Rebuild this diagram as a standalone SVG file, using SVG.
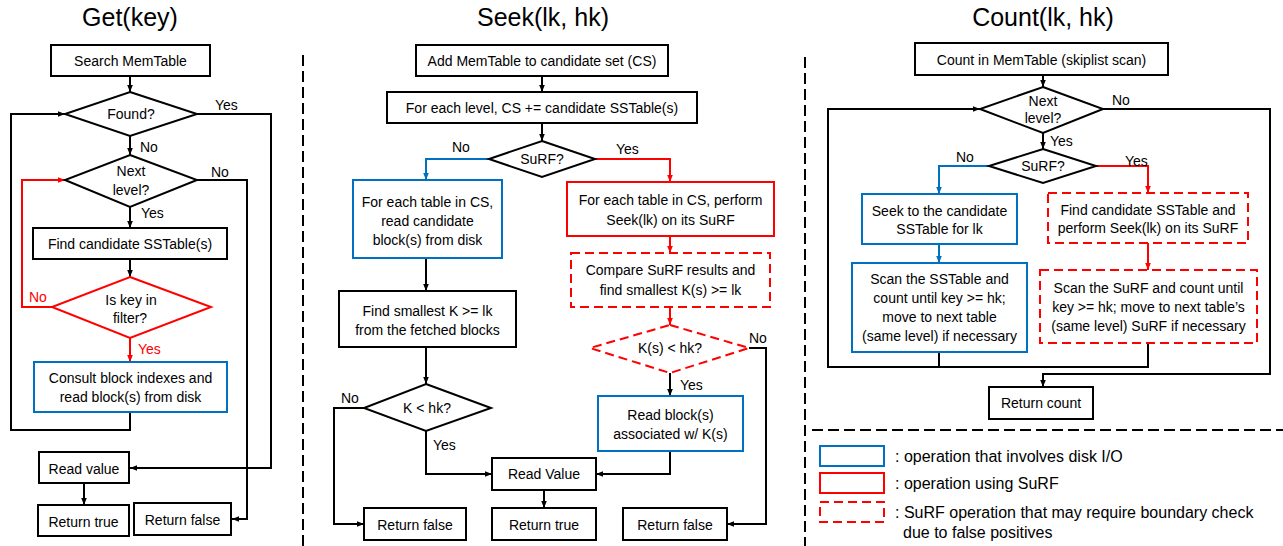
<svg xmlns="http://www.w3.org/2000/svg" width="1283" height="546" viewBox="0 0 1283 546">
<defs>
<style>
text{font-family:"Liberation Sans",Arial,sans-serif;font-size:14px;fill:#000;text-anchor:middle}
.t{font-size:25px}
.s{text-anchor:start}
.rt{fill:#FF0000}
.lg{font-size:16px;text-anchor:start}
.bx{fill:#fff;stroke:#000;stroke-width:2}
.bl{fill:#fff;stroke:#0070C0;stroke-width:2}
.rd{fill:#fff;stroke:#FF0000;stroke-width:2}
.rdd{fill:#fff;stroke:#FF0000;stroke-width:2;stroke-dasharray:9 5}
.ck{fill:none;stroke:#000;stroke-width:2}
.cb{fill:none;stroke:#0070C0;stroke-width:2}
.cr{fill:none;stroke:#FF0000;stroke-width:2}
.sep{fill:none;stroke:#000;stroke-width:2;stroke-dasharray:11 5}
</style>
<marker id="ak" viewBox="0 0 10 10" refX="10" refY="5" markerWidth="7" markerHeight="7" markerUnits="userSpaceOnUse" orient="auto"><path d="M0,1 L10,5 L0,9 z" fill="#000"/></marker>
<marker id="ab" viewBox="0 0 10 10" refX="10" refY="5" markerWidth="7" markerHeight="7" markerUnits="userSpaceOnUse" orient="auto"><path d="M0,1 L10,5 L0,9 z" fill="#0070C0"/></marker>
<marker id="ar" viewBox="0 0 10 10" refX="10" refY="5" markerWidth="7" markerHeight="7" markerUnits="userSpaceOnUse" orient="auto"><path d="M0,1 L10,5 L0,9 z" fill="#FF0000"/></marker>
</defs>
<rect width="1283" height="546" fill="#fff"/>

<g id="titles">
<text class="t" x="130" y="26">Get(key)</text>
<text class="t" x="543" y="26">Seek(lk, hk)</text>
<text class="t" x="1043" y="26">Count(lk, hk)</text>
</g>

<g id="separators">
<path class="sep" d="M303,55 V546"/>
<path class="sep" d="M805,57 V546"/>
<path class="sep" d="M812,430 H1283"/>
</g>

<g id="connectors">
<!-- Get -->
<path class="ck" d="M130,76 V92" marker-end="url(#ak)"/>
<path class="ck" d="M130,136 V155" marker-end="url(#ak)"/>
<path class="ck" d="M130,207 V228" marker-end="url(#ak)"/>
<path class="ck" d="M130,259 V277" marker-end="url(#ak)"/>
<path class="cr" d="M130,338 V362" marker-end="url(#ar)"/>
<path class="ck" d="M197,114 H271 V468 H130" marker-end="url(#ak)"/>
<path class="ck" d="M197,180 H247 V519 H232" marker-end="url(#ak)"/>
<path class="ck" d="M130,412 V430 H11 V114 H65" marker-end="url(#ak)"/>
<path class="cr" d="M52,307 H22 V180 H65" marker-end="url(#ar)"/>
<path class="ck" d="M84,483 V505" marker-end="url(#ak)"/>
<!-- Seek -->
<path class="ck" d="M542,76 V92" marker-end="url(#ak)"/>
<path class="ck" d="M542,123 V141" marker-end="url(#ak)"/>
<path class="cb" d="M489,159 H426 V180" marker-end="url(#ab)"/>
<path class="cr" d="M595,159 H670 V182" marker-end="url(#ar)"/>
<path class="cr" d="M670,236 V253" marker-end="url(#ar)"/>
<path class="cr" d="M670,307 V325" marker-end="url(#ar)"/>
<path class="ck" d="M670,373 V396" marker-end="url(#ak)"/>
<path class="ck" d="M749,348 H766 V524 H727" marker-end="url(#ak)"/>
<path class="ck" d="M670,451 V474 H596" marker-end="url(#ak)"/>
<path class="ck" d="M426,258 V291" marker-end="url(#ak)"/>
<path class="ck" d="M426,347 V384" marker-end="url(#ak)"/>
<path class="ck" d="M364,408 H334 V524 H364" marker-end="url(#ak)"/>
<path class="ck" d="M426,431 V474 H492" marker-end="url(#ak)"/>
<path class="ck" d="M544,490 V508" marker-end="url(#ak)"/>
<!-- Count -->
<path class="ck" d="M1043,75 V87" marker-end="url(#ak)"/>
<path class="ck" d="M1043,133 V149" marker-end="url(#ak)"/>
<path class="cb" d="M989,166 H939 V194" marker-end="url(#ab)"/>
<path class="cr" d="M1096,166 H1148 V193" marker-end="url(#ar)"/>
<path class="cb" d="M939,244 V263" marker-end="url(#ab)"/>
<path class="cr" d="M1148,243 V270" marker-end="url(#ar)"/>
<path class="ck" d="M1103,109 H1270 V374 H1043 V387" marker-end="url(#ak)"/>
<path class="ck" d="M939,352 V367 H828 V109 H980" marker-end="url(#ak)"/>
<path class="ck" d="M1148,343 V367 H939"/>
</g>

<g id="edge-labels">
<text class="s" x="215" y="110">Yes</text>
<text class="s" x="140" y="152">No</text>
<text class="s" x="211" y="177">No</text>
<text class="s" x="141" y="218">Yes</text>
<text class="s rt" x="29" y="302">No</text>
<text class="s rt" x="138" y="354">Yes</text>
<text class="s" x="452" y="152">No</text>
<text class="s" x="616" y="154">Yes</text>
<text class="s" x="749" y="343">No</text>
<text class="s" x="680" y="390">Yes</text>
<text class="s" x="341" y="403">No</text>
<text class="s" x="433" y="450">Yes</text>
<text class="s" x="1112" y="105">No</text>
<text class="s" x="1050" y="146">Yes</text>
<text class="s" x="956" y="162">No</text>
<text class="s" x="1125" y="166">Yes</text>
</g>

<!-- Get nodes -->
<g id="get-search"><rect class="bx" x="51" y="45" width="159" height="31"/><text x="130.5" y="66">Search MemTable</text></g>
<g id="get-found"><polygon class="bx" points="130,92 197,114 130,136 65,114"/><text x="131" y="119">Found?</text></g>
<g id="get-next"><polygon class="bx" points="130,155 197,180 130,207 65,180"/><text x="131" y="176">Next</text><text x="131" y="195">level?</text></g>
<g id="get-find"><rect class="bx" x="33" y="228" width="194" height="31"/><text x="130" y="249">Find candidate SSTable(s)</text></g>
<g id="get-filter"><polygon class="rd" points="130,277 211,307 130,338 52,307"/><text x="131" y="305">Is key in</text><text x="130" y="323">filter?</text></g>
<g id="get-consult"><rect class="bl" x="34" y="362" width="193" height="50"/><text x="130.5" y="383">Consult block indexes and</text><text x="130.5" y="402">read block(s) from disk</text></g>
<g id="get-readvalue"><rect class="bx" x="39" y="452" width="90" height="31"/><text x="84" y="474">Read value</text></g>
<g id="get-true"><rect class="bx" x="38" y="505" width="91" height="31"/><text x="83.5" y="527">Return true</text></g>
<g id="get-false"><rect class="bx" x="134" y="503" width="97" height="32"/><text x="182.5" y="525">Return false</text></g>

<!-- Seek nodes -->
<g id="seek-add"><rect class="bx" x="416" y="45" width="252" height="31"/><text x="542" y="66">Add MemTable to candidate set (CS)</text></g>
<g id="seek-level"><rect class="bx" x="387" y="92" width="310" height="31"/><text x="542" y="113">For each level, CS += candidate SSTable(s)</text></g>
<g id="seek-surf"><polygon class="bx" points="542,141 595,159 542,177 489,159"/><text x="542" y="164">SuRF?</text></g>
<g id="seek-read"><rect class="bl" x="353" y="180" width="149" height="78"/><text x="427.5" y="207">For each table in CS,</text><text x="427.5" y="226">read candidate</text><text x="427.5" y="245">block(s) from disk</text></g>
<g id="seek-surfseek"><rect class="rd" x="567" y="182" width="207" height="54"/><text x="670.5" y="205">For each table in CS, perform</text><text x="670.5" y="225">Seek(lk) on its SuRF</text></g>
<g id="seek-compare"><rect class="rdd" x="571" y="253" width="199" height="54"/><text x="670.5" y="275">Compare SuRF results and</text><text x="670.5" y="295">find smallest K(s) &gt;= lk</text></g>
<g id="seek-kslt"><polygon class="rdd" points="670,325 749,348 670,373 590,348"/><text x="670" y="353">K(s) &lt; hk?</text></g>
<g id="seek-readblk"><rect class="bl" x="598" y="396" width="145" height="55"/><text x="670.5" y="420">Read block(s)</text><text x="670.5" y="439">associated w/ K(s)</text></g>
<g id="seek-smallest"><rect class="bx" x="339" y="291" width="177" height="56"/><text x="427.5" y="316">Find smallest K &gt;= lk</text><text x="427.5" y="335">from the fetched blocks</text></g>
<g id="seek-klt"><polygon class="bx" points="426,384 491,408 426,431 364,408"/><text x="427" y="413">K &lt; hk?</text></g>
<g id="seek-readvalue"><rect class="bx" x="492" y="458" width="104" height="32"/><text x="544" y="479">Read Value</text></g>
<g id="seek-true"><rect class="bx" x="492" y="508" width="104" height="32"/><text x="544" y="530">Return true</text></g>
<g id="seek-false1"><rect class="bx" x="364" y="508" width="102" height="32"/><text x="415" y="530">Return false</text></g>
<g id="seek-false2"><rect class="bx" x="623" y="508" width="104" height="32"/><text x="675" y="530">Return false</text></g>

<!-- Count nodes -->
<g id="count-mem"><rect class="bx" x="915" y="43" width="253" height="32"/><text x="1041.5" y="65">Count in MemTable (skiplist scan)</text></g>
<g id="count-next"><polygon class="bx" points="1043,87 1103,109 1043,133 980,109"/><text x="1043" y="106">Next</text><text x="1043" y="123">level?</text></g>
<g id="count-surf"><polygon class="bx" points="1043,149 1096,166 1043,183 989,166"/><text x="1043" y="171">SuRF?</text></g>
<g id="count-seek"><rect class="bl" x="862" y="194" width="155" height="50"/><text x="939.5" y="216">Seek to the candidate</text><text x="939.5" y="234">SSTable for lk</text></g>
<g id="count-scan"><rect class="bl" x="852" y="263" width="175" height="89"/><text x="939.5" y="284">Scan the SSTable and</text><text x="939.5" y="303">count until key &gt;= hk;</text><text x="939.5" y="322">move to next table</text><text x="939.5" y="341">(same level) if necessary</text></g>
<g id="count-surffind"><rect class="rdd" x="1048" y="193" width="200" height="50"/><text x="1148" y="215">Find candidate SSTable and</text><text x="1148" y="233">perform Seek(lk) on its SuRF</text></g>
<g id="count-surfscan"><rect class="rdd" x="1040" y="270" width="217" height="73"/><text x="1148.5" y="293">Scan the SuRF and count until</text><text x="1148.5" y="312">key &gt;= hk; move to next table’s</text><text x="1148.5" y="331">(same level) SuRF if necessary</text></g>
<g id="count-return"><rect class="bx" x="989" y="387" width="104" height="32"/><text x="1041" y="408">Return count</text></g>

<g id="legend">
<rect class="bl" x="820" y="446" width="64" height="20"/>
<text class="lg" x="895" y="462">: operation that involves disk I/O</text>
<rect class="rd" x="820" y="473" width="64" height="20"/>
<text class="lg" x="895" y="489">: operation using SuRF</text>
<rect class="rdd" x="820" y="502" width="64" height="20"/>
<text class="lg" x="895" y="518">: SuRF operation that may require boundary check</text>
<text class="lg" x="903" y="538">due to false positives</text>
</g>
</svg>
